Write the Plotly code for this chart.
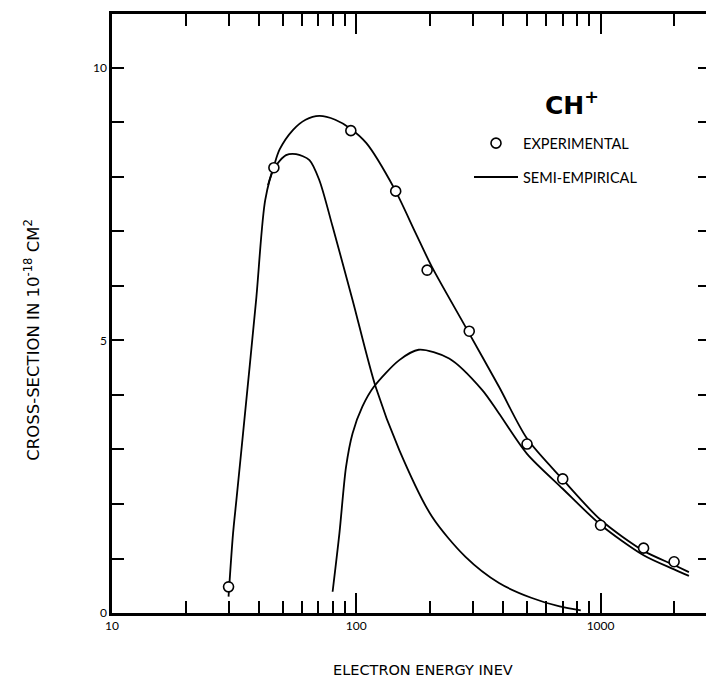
import plotly.graph_objects as go

# experimental points (electron energy in eV, cross-section in 1e-18 cm^2)
exp_energy = [30, 46, 95, 145, 195, 290, 500, 700, 1000, 1500, 2000]
exp_xsec = [0.48, 8.17, 8.85, 7.74, 6.29, 5.17, 3.10, 2.46, 1.61, 1.19, 0.94]

# semi-empirical total curve
total_energy = [43.5, 46, 48.5, 55, 62, 70.6, 82, 94.5, 110, 143, 175, 204, 280, 384, 500, 700, 1000, 1500, 2000, 2300]
total_xsec = [7.85, 8.2, 8.5, 8.86, 9.05, 9.12, 9.05, 8.89, 8.62, 7.79, 6.97, 6.35, 5.25, 4.15, 3.2, 2.45, 1.71, 1.14, 0.88, 0.75]

# first component
comp1_energy = [30, 31.3, 32.3, 34.4, 38.9, 42.4, 46, 51.6, 56.7, 64.3, 70.6, 80, 96.6, 120, 150, 204, 280, 384, 520, 680, 830]
comp1_xsec = [0.3, 1.46, 2.07, 3.3, 5.74, 7.58, 8.15, 8.40, 8.42, 8.31, 7.94, 7.09, 5.74, 4.15, 2.99, 1.77, 1.03, 0.55, 0.28, 0.12, 0.05]

# second component
comp2_energy = [80, 85.3, 90.8, 96.6, 106, 118, 150, 180, 240, 328, 384, 500, 700, 1000, 1500, 2000, 2300]
comp2_xsec = [0.39, 1.46, 2.68, 3.3, 3.79, 4.15, 4.64, 4.83, 4.67, 4.09, 3.66, 2.92, 2.28, 1.62, 1.06, 0.80, 0.68]

y_tickvals = [0, 5, 10]
y_ticktext = ['0', '5', '10']
x_tickvals = [10, 100, 1000]
x_ticktext = ['10', '100', '1000']

font_name = 'Lato'
title_font = 'DejaVu Sans'
line_style = dict(color='black', width=1.8, shape='spline', smoothing=0.8)

fig = go.Figure()
fig.add_trace(go.Scatter(x=total_energy, y=total_xsec, mode='lines', line=line_style,
                         name='SEMI-EMPIRICAL', legendgroup='b', legendrank=2, showlegend=True))
fig.add_trace(go.Scatter(x=comp1_energy, y=comp1_xsec, mode='lines', line=line_style, showlegend=False))
fig.add_trace(go.Scatter(x=comp2_energy, y=comp2_xsec, mode='lines', line=line_style, showlegend=False))
fig.add_trace(go.Scatter(x=exp_energy, y=exp_xsec, mode='markers',
                         marker=dict(symbol='circle', size=10, color='white',
                                     line=dict(color='black', width=1.6)),
                         name='EXPERIMENTAL', legendgroup='a', legendrank=1, showlegend=True))

fig.update_xaxes(type='log', range=[1, 3.448],
                 tickvals=x_tickvals, ticktext=x_ticktext,
                 ticks='inside', ticklen=20, tickwidth=2, tickcolor='black',
                 minor=dict(ticks='inside', ticklen=12, tickwidth=2, tickcolor='black', dtick='D1'),
                 showline=True, linecolor='black', linewidth=2.5, mirror='ticks',
                 showgrid=False, zeroline=False,
                 tickfont=dict(family=font_name, size=12, color='black'))
fig.update_yaxes(range=[0, 10.99],
                 tickvals=y_tickvals, ticktext=y_ticktext,
                 ticks='inside', ticklen=12, tickwidth=2, tickcolor='black',
                 minor=dict(ticks='inside', ticklen=12, tickwidth=2, tickcolor='black', dtick=1),
                 showline=True, linecolor='black', linewidth=2.5, mirror='ticks',
                 showgrid=False, zeroline=False,
                 tickfont=dict(family=font_name, size=12, color='black'))

# page body adds 8px, so the figure is laid out 8px smaller
fig.add_annotation(text='CH<sup>+</sup>', xref='paper', yref='paper', x=0.77, y=0.85,
                   xanchor='center', yanchor='middle', showarrow=False,
                   font=dict(family=title_font, size=25, color='black', weight='bold'))
fig.add_annotation(text='CROSS-SECTION IN 10<sup>-18</sup> CM<sup>2</sup>', xref='paper', yref='paper',
                   x=-0.133, y=0.457, xanchor='center', yanchor='middle', textangle=-90, showarrow=False,
                   font=dict(family=title_font, size=16.5, color='black'))
fig.add_annotation(text='ELECTRON ENERGY INEV', xref='paper', yref='paper',
                   x=0.52, y=-0.095, xanchor='center', yanchor='middle', showarrow=False,
                   font=dict(family=title_font, size=14.5, color='black'))

fig.update_layout(width=706, height=677,
                  margin=dict(l=104, r=1, t=6, b=72),
                  paper_bgcolor='white', plot_bgcolor='white',
                  legend=dict(x=0.597, y=0.811, xanchor='left', yanchor='top',
                              bgcolor='rgba(0,0,0,0)', tracegroupgap=12,
                              traceorder='grouped', itemwidth=44,
                              font=dict(family=font_name, size=14.5, color='black')))

fig.write_html("out.html")
